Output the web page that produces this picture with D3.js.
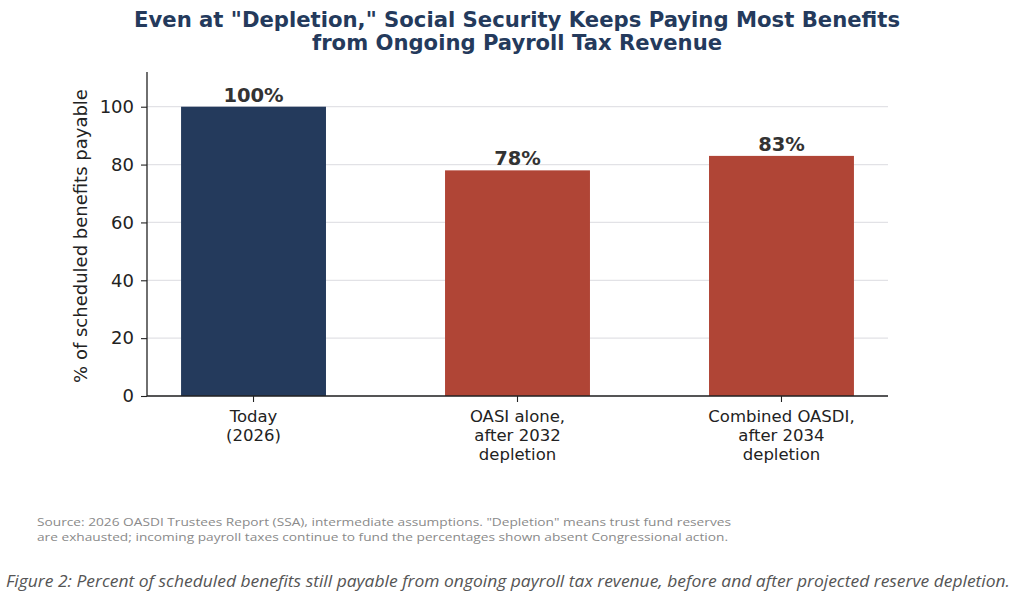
<!DOCTYPE html>
<html><head><meta charset="utf-8">
<script src="https://cdn.jsdelivr.net/npm/d3@7"></script>
<style>body{margin:0;background:#fff}svg{display:block}</style>
</head><body>
<svg id="c" width="1024" height="602"></svg>
<script>
const categories = [["Today","(2026)"],["OASI alone,","after 2032","depletion"],["Combined OASDI,","after 2034","depletion"]];
const values = [100, 78, 83];
const valueLabels = ["100%","78%","83%"];
const barColors = ["#243a5c","#b04536","#b04536"];
const yTicks = [0,20,40,60,80,100];
const titleLines = ["Even at \"Depletion,\" Social Security Keeps Paying Most Benefits","from Ongoing Payroll Tax Revenue"];
const sourceLines = ["Source: 2026 OASDI Trustees Report (SSA), intermediate assumptions. \"Depletion\" means trust fund reserves","are exhausted; incoming payroll taxes continue to fund the percentages shown absent Congressional action."];
const caption = "Figure 2: Percent of scheduled benefits still payable from ongoing payroll tax revenue, before and after projected reserve depletion.";

const svg = d3.select("#c");
const L=147, R=888, T=72, B=396;
const x = d3.scaleBand().domain(d3.range(values.length)).range([L,R]).paddingInner(0.451).paddingOuter(0.129);
const y = d3.scaleLinear().domain([0,112]).range([B,T]);

// title
svg.selectAll("text.title").data(titleLines).join("text")
  .attr("x",517).attr("y",(d,i)=>27+i*22.8).attr("text-anchor","middle")
  .attr("font-family","DejaVu Sans").attr("font-weight","bold").attr("font-size",20.5)
  .attr("fill","#243a5c")
  .attr("textLength",(d,i)=>i===0?766:410).attr("lengthAdjust","spacingAndGlyphs")
  .text(d=>d);

// grid
svg.append("g").selectAll("line").data(yTicks).join("line")
  .attr("x1",L).attr("x2",R).attr("y1",d=>y(d)).attr("y2",d=>y(d))
  .attr("stroke","#e2e2e6").attr("stroke-width",1.2);

// bars
svg.append("g").selectAll("rect").data(values).join("rect")
  .attr("x",(d,i)=>x(i)).attr("width",x.bandwidth())
  .attr("y",d=>y(d)).attr("height",d=>B-y(d))
  .attr("fill",(d,i)=>barColors[i]);

// value labels
svg.append("g").selectAll("text").data(values).join("text")
  .attr("x",(d,i)=>x(i)+x.bandwidth()/2).attr("y",d=>y(d)-5)
  .attr("text-anchor","middle").attr("font-family","DejaVu Sans").attr("font-weight","bold")
  .attr("font-size",19.5).attr("fill","#333")
  .text((d,i)=>valueLabels[i]);

// y axis
const ya = svg.append("g").attr("transform",`translate(${L},0)`)
  .call(d3.axisLeft(y).tickValues(yTicks).tickSize(6).tickPadding(7));
ya.select(".domain").attr("d",`M0,${T}V${B}`).attr("stroke","#222").attr("stroke-width",1.3);
ya.selectAll(".tick line").attr("stroke","#222").attr("stroke-width",1.1);
ya.selectAll(".tick text").attr("font-family","DejaVu Sans").attr("font-size",18).attr("fill","#222");

// x axis
const xa = svg.append("g").attr("transform",`translate(0,${B})`)
  .call(d3.axisBottom(x).tickSize(6).tickFormat(""));
xa.select(".domain").attr("d",`M${L},0H${R}`).attr("stroke","#222").attr("stroke-width",1.3);
xa.selectAll(".tick line").attr("stroke","#222").attr("stroke-width",1.1);
xa.selectAll(".tick").each(function(d){
  const t = d3.select(this).append("text").attr("text-anchor","middle")
    .attr("font-family","DejaVu Sans").attr("font-size",16.5).attr("fill","#222");
  categories[d].forEach((s,j)=>t.append("tspan").attr("x",0).attr("y",26+j*19).text(s));
});

// y label
svg.append("text").attr("transform",`translate(87,${(T+B)/2+2}) rotate(-90)`)
  .attr("text-anchor","middle").attr("font-family","DejaVu Sans").attr("font-size",18).attr("fill","#222")
  .text("% of scheduled benefits payable");

// source
svg.selectAll("text.src").data(sourceLines).join("text")
  .attr("x",37).attr("y",(d,i)=>526+i*15)
  .attr("font-family","Open Sans").attr("font-size",11.5).attr("fill","#8a8a8a")
  .attr("textLength",(d,i)=>i===0?694:691).attr("lengthAdjust","spacingAndGlyphs")
  .text(d=>d);

// caption
svg.append("text").attr("x",6).attr("y",587)
  .attr("font-family","Open Sans").attr("font-style","italic").attr("font-size",16.5).attr("fill","#555")
  .attr("textLength",1004).attr("lengthAdjust","spacingAndGlyphs")
  .text(caption);
</script>
</body></html>
